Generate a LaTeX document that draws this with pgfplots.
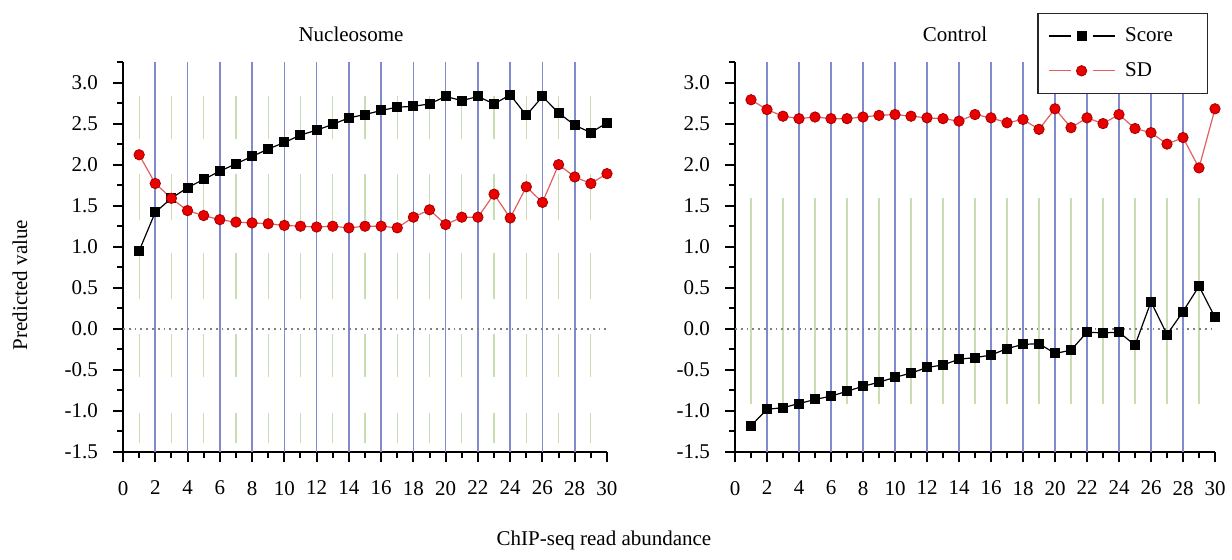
\documentclass[border=0pt]{standalone}
\usepackage{fontspec}
\setmainfont{Liberation Serif}
\usepackage{pgfplots}
\usepackage{pgfplotstable}
\pgfplotsset{compat=1.18}
\definecolor{gridblue}{RGB}{128,138,205}
\definecolor{gridgreen}{RGB}{200,222,178}
\definecolor{sdred}{RGB}{235,0,0}
\definecolor{sdline}{RGB}{225,95,95}
\definecolor{sdedge}{RGB}{165,0,0}

\pgfplotstableread{
x y
1 0.95
2 1.42
3 1.59
4 1.72
5 1.82
6 1.92
7 2.01
8 2.10
9 2.19
10 2.27
11 2.36
12 2.42
13 2.49
14 2.57
15 2.61
16 2.66
17 2.70
18 2.71
19 2.74
20 2.83
21 2.78
22 2.83
23 2.74
24 2.85
25 2.60
26 2.83
27 2.63
28 2.48
29 2.39
30 2.51
}\nucscore
\pgfplotstableread{
x y
1 2.12
2 1.77
3 1.59
4 1.44
5 1.38
6 1.33
7 1.30
8 1.29
9 1.28
10 1.26
11 1.25
12 1.24
13 1.25
14 1.23
15 1.25
16 1.25
17 1.23
18 1.36
19 1.45
20 1.27
21 1.36
22 1.36
23 1.64
24 1.35
25 1.73
26 1.54
27 2.00
28 1.85
29 1.77
30 1.89
}\nucsd
\pgfplotstableread{
x y
1 -1.18
2 -0.98
3 -0.96
4 -0.91
5 -0.86
6 -0.82
7 -0.76
8 -0.70
9 -0.65
10 -0.59
11 -0.54
12 -0.47
13 -0.44
14 -0.37
15 -0.35
16 -0.32
17 -0.24
18 -0.19
19 -0.18
20 -0.30
21 -0.26
22 -0.04
23 -0.05
24 -0.04
25 -0.20
26 0.33
27 -0.07
28 0.21
29 0.52
30 0.14
}\ctrlscore
\pgfplotstableread{
x y
1 2.79
2 2.67
3 2.59
4 2.56
5 2.58
6 2.56
7 2.56
8 2.58
9 2.60
10 2.61
11 2.59
12 2.57
13 2.56
14 2.53
15 2.61
16 2.57
17 2.51
18 2.55
19 2.43
20 2.68
21 2.45
22 2.57
23 2.50
24 2.61
25 2.44
26 2.39
27 2.25
28 2.33
29 1.96
30 2.68
}\ctrlsd

\pgfplotsset{
  myaxis/.style={
    scale only axis,
    anchor=south west,
    height=195pt,
    xmin=0, xmax=30, ymin=-1.5, ymax=3.25,
    axis x line*=bottom, axis y line*=left,
    axis line style={line width=1.2pt, black},
    xtick={0,2,...,30},
    minor xtick={1,3,...,29},
    ytick={-1.5,-1,-0.5,0,0.5,1,1.5,2,2.5,3},
    minor ytick={-1.25,-0.75,-0.25,0.25,0.75,1.25,1.75,2.25,2.75,3.25},
    tick align=outside,
    major tick length=5pt, minor tick length=3pt,
    every tick/.style={line width=1pt, black},
    every minor tick/.style={line width=1pt, black},
    tick label style={font=\fontsize{10.5}{12}\selectfont},
    /pgf/number format/assume math mode=true,
    xticklabel style={yshift=-6pt},
    yticklabel style={xshift=-4pt, /pgf/number format/fixed, /pgf/number format/fixed zerofill, /pgf/number format/precision=1},
    scorestyle/.style={black, line width=0.6pt, mark=square*, mark size=2.2pt, mark options={fill=black, draw=black, solid}},
    sdstyle/.style={sdline, line width=0.6pt, mark=*, mark size=2.6pt, mark options={fill=sdred, draw=sdedge, line width=0.4pt, solid}},
    legend image code/.code={
      \draw[##1,mark=none] (0pt,0pt) -- (11pt,0pt);
      \draw[##1,mark=none] (22pt,0pt) -- (33pt,0pt);
      \draw[##1] plot coordinates {(16.5pt,0pt)};
    },
  },
}

\begin{document}
\begin{tikzpicture}
\useasboundingbox (0,0) rectangle (616pt,279.5pt);

% Left panel
\begin{axis}[myaxis, at={(61.5pt,53.5pt)}, width=242pt]
  \pgfplotsinvokeforeach{2,4,...,28}{
    \addplot[gridblue, line width=0.8pt, forget plot] coordinates {(#1,-1.5) (#1,3.25)};
  }
  \pgfplotsinvokeforeach{1,3,...,29}{
    \addplot[gridgreen, line width=0.6pt, forget plot, unbounded coords=jump] coordinates {
      (#1,2.84) (#1,2.31) (#1,nan) (#1,1.88) (#1,1.33) (#1,nan) (#1,0.92) (#1,0.36) (#1,nan)
      (#1,-0.06) (#1,-0.59) (#1,nan) (#1,-1.03) (#1,-1.39)};
  }
  \addplot[gray, dotted, line width=0.9pt, forget plot] coordinates {(0,0) (30,0)};
  \addplot[scorestyle] table[x=x,y=y] {\nucscore};
  \addplot[sdstyle] table[x=x,y=y] {\nucsd};
\end{axis}

% Right panel
\begin{axis}[myaxis, at={(367.5pt,53.5pt)}, width=240pt,
  legend style={at={(0.985,1.126)}, anchor=north east, draw=black!85, line width=0.6pt,
    font=\fontsize{10.5}{12}\selectfont, inner xsep=5pt, inner ysep=5pt, row sep=5pt},
  legend cell align=left,
  ]
  \pgfplotsinvokeforeach{2,4,...,28}{
    \addplot[gridblue, line width=0.8pt, forget plot] coordinates {(#1,-1.5) (#1,3.25)};
  }
  \pgfplotsinvokeforeach{1,3,...,29}{
    \addplot[gridgreen, line width=0.6pt, forget plot] coordinates {(#1,1.59) (#1,-0.91)};
  }
  \addplot[gray, dotted, line width=0.9pt, forget plot] coordinates {(0,0) (30,0)};
  \addplot[scorestyle] table[x=x,y=y] {\ctrlscore};
  \addplot[sdstyle] table[x=x,y=y] {\ctrlsd};
  \legend{\hspace*{3pt}\makebox[34pt][l]{Score}, \hspace*{3pt}\makebox[34pt][l]{SD}}
\end{axis}

\node[font=\fontsize{10.5}{12}\selectfont] at (175.5pt,262.5pt) {Nucleosome};
\node[font=\fontsize{10.5}{12}\selectfont] at (477.5pt,262.5pt) {Control};
\node[font=\fontsize{10.5}{12}\selectfont, rotate=90] at (10pt,137pt) {Predicted value};
\node[font=\fontsize{10.5}{12}\selectfont] at (302pt,9.5pt) {ChIP-seq read abundance};
\end{tikzpicture}
\end{document}
